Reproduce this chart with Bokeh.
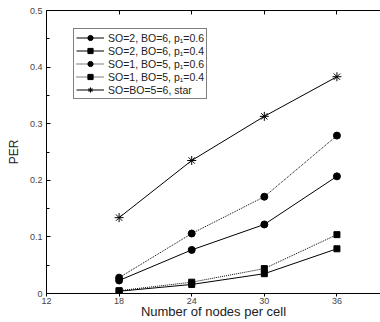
from bokeh.plotting import figure
from bokeh.models import Legend, LegendItem, LinearAxis, FixedTicker, Range1d
from bokeh.embed import file_html
from bokeh.resources import INLINE

nodes = [18, 24, 30, 36]
so2_p06 = [0.023, 0.077, 0.122, 0.207]
so2_p04 = [0.004, 0.016, 0.035, 0.079]
so1_p06 = [0.028, 0.106, 0.171, 0.279]
so1_p04 = [0.005, 0.020, 0.044, 0.104]
star = [0.134, 0.235, 0.313, 0.383]

labels = ["SO=2, BO=6, p\u2081=0.6", "SO=2, BO=6, p\u2081=0.4",
          "SO=1, BO=5, p\u2081=0.6", "SO=1, BO=5, p\u2081=0.4",
          "SO=BO=5=6, star"]
x_ticks = [12, 18, 24, 30, 36]
y_ticks = [0, 0.1, 0.2, 0.3, 0.4, 0.5]
y_minor = [0.05, 0.15, 0.25, 0.35, 0.45]

FONT = "Liberation Sans"

p = figure(frame_width=334, frame_height=283, output_backend="svg", toolbar_location=None,
           x_range=Range1d(12, 39.6), y_range=Range1d(0, 0.5),
           min_border_left=46, min_border_top=10, min_border_right=0, min_border_bottom=0,
           x_axis_label="Number of nodes per cell", y_axis_label="PER")
p.outline_line_color = None
p.xgrid.visible = False
p.ygrid.visible = False

series = [
    (so2_p06, "circle", None, 7),
    (so2_p04, "square", None, 6),
    (so1_p06, "circle", "1 1", 7),
    (so1_p04, "square", "1 1", 6),
    (star, "asterisk", None, 9),
]
items = []
for (vals, mk, dash, sz), lab in zip(series, labels):
    kw = {}
    if dash:
        kw["line_dash"] = dash
    ln = p.line(nodes, vals, line_color="black", line_width=1, **kw)
    sc = p.scatter(nodes, vals, marker=mk, size=sz, fill_color="black",
                   line_color="black", line_width=1)
    items.append(LegendItem(label=lab, renderers=[ln, sc]))

leg = Legend(items=items, location=(27, 194), padding=2, spacing=0, margin=0,
             glyph_width=28, glyph_height=13, label_height=13, label_standoff=4,
             label_text_font=FONT, label_text_font_size="10.5px",
             label_text_color="#222222",
             border_line_color="black", border_line_width=1,
             background_fill_alpha=1)
p.add_layout(leg, "center")

xa = p.xaxis[0]
xa.ticker = FixedTicker(ticks=x_ticks)
xa.major_tick_in = 0
xa.major_tick_out = 3
xa.minor_tick_line_color = None
xa.major_label_standoff = 1
xa.axis_label_standoff = -3
xa.major_label_text_font = FONT
xa.major_label_text_font_size = "9px"
xa.major_label_text_color = "#444444"
xa.axis_label_text_font = FONT
xa.axis_label_text_font_size = "13px"
xa.axis_label_text_font_style = "normal"
xa.axis_label_text_color = "#222222"

ya = p.yaxis[0]
ya.ticker = FixedTicker(ticks=y_ticks, minor_ticks=y_minor)
ya.major_tick_in = 4
ya.major_tick_out = 0
ya.minor_tick_in = 3
ya.minor_tick_out = 0
ya.major_label_overrides = {0: "0"}
ya.major_label_standoff = 4
ya.axis_label_standoff = 6
ya.major_label_text_font = FONT
ya.major_label_text_font_size = "9px"
ya.major_label_text_color = "#444444"
ya.axis_label_text_font = FONT
ya.axis_label_text_font_size = "12px"
ya.axis_label_text_font_style = "normal"
ya.axis_label_text_color = "#222222"

top = LinearAxis(ticker=FixedTicker(ticks=x_ticks), major_tick_in=4, major_tick_out=0,
                 minor_tick_line_color=None,
                 major_label_overrides={t: "" for t in x_ticks},
                 major_label_standoff=0, axis_label_standoff=0)
p.add_layout(top, "above")

open("out.html", "w").write(file_html(p, INLINE))
